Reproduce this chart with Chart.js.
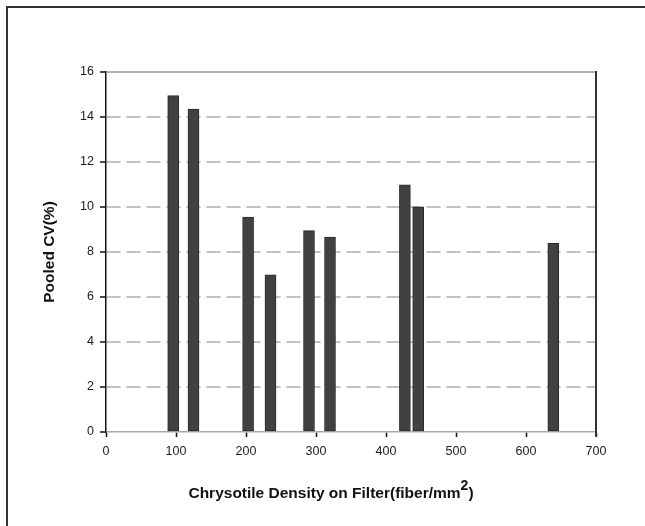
<!DOCTYPE html>
<html>
<head>
<meta charset="utf-8">
<script src="https://cdn.jsdelivr.net/npm/chart.js@4.4.1/dist/chart.umd.min.js"></script>
<style>
  html, body { margin: 0; padding: 0; background: #fff; }
  #wrap { width: 645px; height: 526px; }
</style>
</head>
<body>
<div id="wrap"><canvas id="grafico" width="645" height="526"></canvas></div>
<script>
// densidad de crisotilo en el filtro (fibras/mm2) y CV agrupado (%)
const densidad = [96, 125, 203, 235, 290, 320, 427, 446, 639];
const cvPooled = [14.95, 14.35, 9.55, 6.98, 8.95, 8.66, 10.98, 10.01, 8.39];

const xTicks = [0, 100, 200, 300, 400, 500, 600, 700];
const yTicks = [0, 2, 4, 6, 8, 10, 12, 14, 16];

const tituloY = 'Pooled CV(%)';
const tituloX = 'Chrysotile Density on Filter(fiber/mm';
const tituloXSup = '2';
const tituloXFin = ')';

const FUENTE = "'Liberation Sans', Arial, sans-serif";

// marco exterior (solo borde izquierdo y superior) + bordes superior/derecho del área
const marco = {
  id: 'marco',
  beforeDraw(chart) {
    const c = chart.ctx;
    c.save();
    c.fillStyle = '#fff';
    c.fillRect(0, 0, chart.width, chart.height);
    c.strokeStyle = '#333';
    c.lineWidth = 2;
    c.beginPath();
    c.moveTo(7, chart.height);
    c.lineTo(7, 7);
    c.lineTo(chart.width, 7);
    c.stroke();
    c.restore();
  },
  afterDatasetsDraw(chart) {
    const { left, right, top, bottom } = chart.chartArea;
    const c = chart.ctx;
    c.save();
    c.strokeStyle = '#9a9a9a';
    c.lineWidth = 1.5;
    c.beginPath();
    c.moveTo(left, top);
    c.lineTo(right, top);
    c.stroke();
    c.strokeStyle = '#333';
    c.lineWidth = 2;
    c.beginPath();
    c.moveTo(right, top - 1);
    c.lineTo(right, bottom + 5);
    c.stroke();
    c.restore();
  }
};

// título del eje X con superíndice
const tituloEjeX = {
  id: 'tituloEjeX',
  afterDraw(chart) {
    const c = chart.ctx;
    c.save();
    c.fillStyle = '#111';
    c.textBaseline = 'alphabetic';
    const fMain = 'bold 15.5px ' + FUENTE;
    const fSup = 'bold 14px ' + FUENTE;
    c.font = fMain;
    const w1 = c.measureText(tituloX).width;
    const w3 = c.measureText(tituloXFin).width;
    c.font = fSup;
    const w2 = c.measureText(tituloXSup).width;
    const total = w1 + w2 + w3;
    let x = 331 - total / 2;
    const y = 498;
    c.font = fMain;
    c.fillText(tituloX, x, y);
    x += w1;
    c.font = fSup;
    c.fillText(tituloXSup, x, y - 8);
    x += w2;
    c.font = fMain;
    c.fillText(tituloXFin, x, y);
    c.restore();
  }
};

const ctx = document.getElementById('grafico').getContext('2d');

new Chart(ctx, {
  type: 'bar',
  data: {
    datasets: [{
      label: tituloY,
      data: densidad.map((d, i) => ({ x: d, y: cvPooled[i] })),
      backgroundColor: '#414141',
      borderColor: '#2a2a2a',
      borderWidth: 1,
      borderSkipped: false,
      barThickness: 11,
    }]
  },
  options: {
    responsive: false,
    animation: false,
    layout: { padding: { left: 36, top: 72, right: 49, bottom: 0 } },
    plugins: {
      legend: { display: false },
      tooltip: { enabled: false },
    },
    scales: {
      x: {
        type: 'linear',
        min: 0,
        max: 700,
        offset: false,
        afterBuildTicks: s => { s.ticks = xTicks.map(v => ({ value: v })); },
        afterFit: s => { s.height = 94; },
        ticks: {
          color: '#1a1a1a',
          font: { family: FUENTE, size: 12.5 },
          padding: 7,
          maxRotation: 0,
        },
        grid: {
          offset: false,
          drawOnChartArea: false,
          drawTicks: true,
          tickLength: 5,
          tickColor: '#111',
          tickWidth: 1.5,
        },
        border: { display: true, color: '#a8a8a8', width: 1.5 },
      },
      y: {
        min: 0,
        max: 16,
        afterBuildTicks: s => { s.ticks = yTicks.map(v => ({ value: v })); },
        afterFit: s => { s.width = 70; },
        ticks: {
          color: '#1a1a1a',
          font: { family: FUENTE, size: 12.5 },
          padding: 6,
        },
        grid: {
          color: c => (c.tick && (c.tick.value === 0 || c.tick.value === 16)) ? 'rgba(0,0,0,0)' : '#c2c2c2',
          lineWidth: 2,
          tickLength: 6,
          tickColor: '#111',
          tickWidth: 1.5,
        },
        border: { display: true, color: '#111', width: 1.5, dash: [14, 6] },
        title: {
          display: true,
          text: tituloY,
          color: '#111',
          font: { family: FUENTE, size: 15.5, weight: 'bold' },
          padding: { top: 4, bottom: 0 },
        },
      },
    },
  },
  plugins: [marco, tituloEjeX],
});
</script>
</body>
</html>
